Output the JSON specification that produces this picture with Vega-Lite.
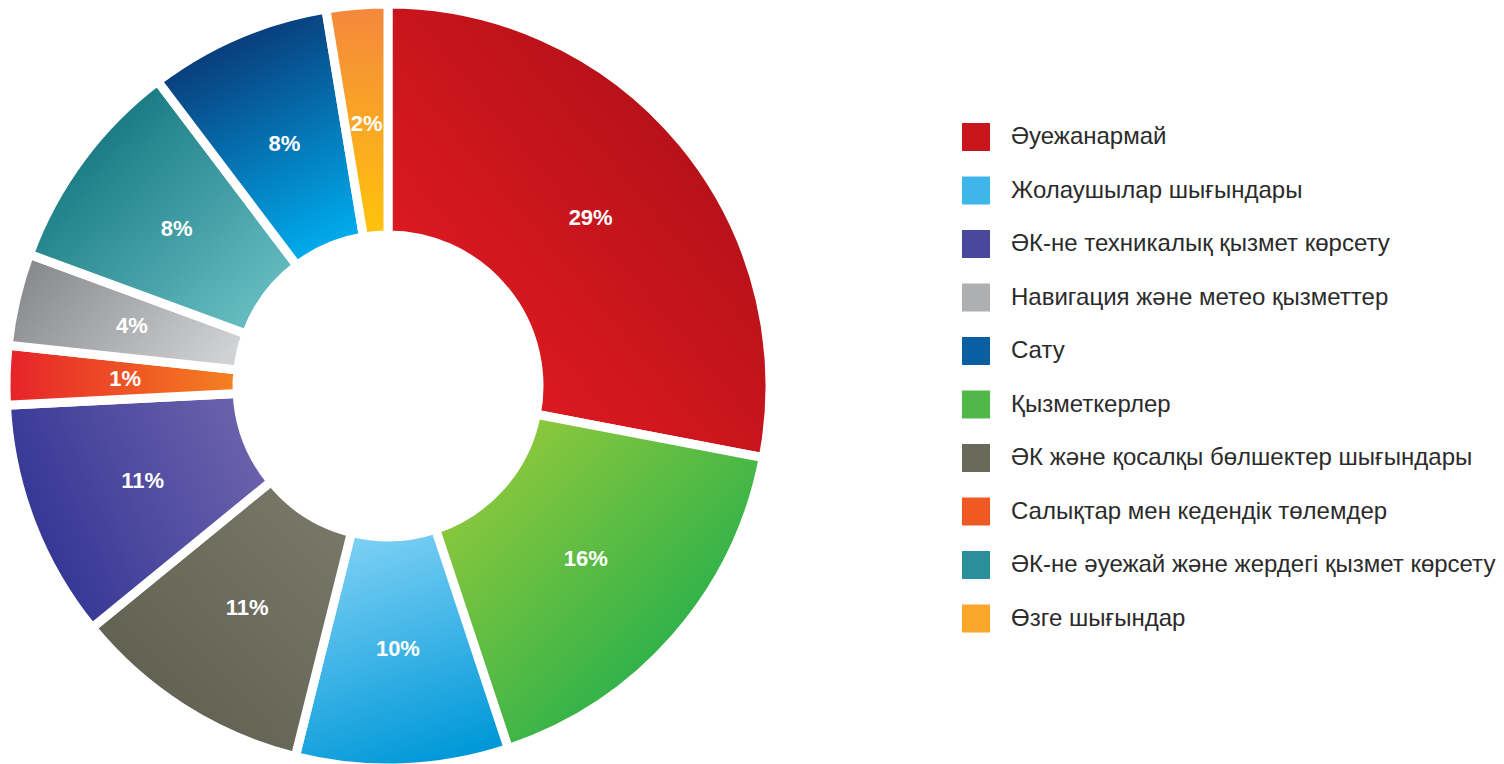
{
  "$schema": "https://vega.github.io/schema/vega-lite/v6.json",
  "width": 776,
  "height": 756,
  "autosize": {"type": "none"},
  "padding": {"left": 0, "top": 8, "right": 728, "bottom": 0},
  "background": "white",
  "config": {"view": {"stroke": null}},
  "data": {
    "values": [
      {"idx": 0, "name": "Әуежанармай", "share": 28.0, "pct": "29%"},
      {"idx": 1, "name": "Қызметкерлер", "share": 16.9, "pct": "16%"},
      {"idx": 2, "name": "Жолаушылар шығындары", "share": 9.0, "pct": "10%"},
      {"idx": 3, "name": "ӘК және қосалқы бөлшектер шығындары", "share": 10.2, "pct": "11%"},
      {"idx": 4, "name": "ӘК-не техникалық қызмет көрсету", "share": 10.1, "pct": "11%"},
      {"idx": 5, "name": "Салықтар мен кедендік төлемдер", "share": 2.5, "pct": "1%"},
      {"idx": 6, "name": "Навигация және метео қызметтер", "share": 3.9, "pct": "4%"},
      {"idx": 7, "name": "ӘК-не әуежай және жердегі қызмет көрсету", "share": 9.1, "pct": "8%"},
      {"idx": 8, "name": "Сату", "share": 7.7, "pct": "8%"},
      {"idx": 9, "name": "Өзге шығындар", "share": 2.6, "pct": "2%"}
    ]
  },
  "encoding": {
    "theta": {"field": "share", "type": "quantitative", "stack": true},
    "order": {"field": "idx", "type": "quantitative"}
  },
  "layer": [
    {
      "mark": {"type": "arc", "outerRadius": 382, "innerRadius": 151, "stroke": "white", "strokeWidth": 9},
      "encoding": {
        "color": {
          "field": "name",
          "type": "nominal",
          "scale": {
            "domain": ["Әуежанармай", "Жолаушылар шығындары", "ӘК-не техникалық қызмет көрсету", "Навигация және метео қызметтер", "Сату", "Қызметкерлер", "ӘК және қосалқы бөлшектер шығындары", "Салықтар мен кедендік төлемдер", "ӘК-не әуежай және жердегі қызмет көрсету", "Өзге шығындар"],
            "range": ["#c9151c", "#3fb6ea", "#4a479e", "#aeafb1", "#0a5fa3", "#4fb848", "#6a6a5b", "#ee5a22", "#2a8f98", "#f9a62a"]
          },
          "legend": {
            "orient": "none",
            "legendX": 962,
            "legendY": 115,
            "title": null,
            "padding": 0,
            "symbolType": "square",
            "symbolSize": 784,
            "symbolStrokeWidth": 0,
            "symbolOpacity": 1,
            "labelFontSize": 24,
            "labelFont": "Liberation Sans",
            "labelColor": "#2b2b2b",
            "labelLimit": 600,
            "labelOffset": 21,
            "rowPadding": 25.5,
            "encode": {
              "symbols": {
                "update": {
                  "fill": [
                    {"test": "datum.value === 'Әуежанармай'", "value": {"gradient": "linear", "x1": 0, "y1": 1, "x2": 1, "y2": 0, "stops": [{"offset": 0, "color": "#ee1d25"}, {"offset": 1, "color": "#a30d14"}]}},
                    {"test": "datum.value === 'Қызметкерлер'", "value": {"gradient": "linear", "x1": 0, "y1": 0, "x2": 1, "y2": 1, "stops": [{"offset": 0, "color": "#a6ce39"}, {"offset": 1, "color": "#00a651"}]}},
                    {"test": "datum.value === 'Жолаушылар шығындары'", "value": {"gradient": "linear", "x1": 0.3, "y1": 0, "x2": 0.6, "y2": 1, "stops": [{"offset": 0, "color": "#80d1f5"}, {"offset": 1, "color": "#0098d8"}]}},
                    {"test": "datum.value === 'ӘК және қосалқы бөлшектер шығындары'", "value": {"gradient": "linear", "x1": 1, "y1": 0, "x2": 0, "y2": 1, "stops": [{"offset": 0, "color": "#7b7b6b"}, {"offset": 1, "color": "#5b5b4d"}]}},
                    {"test": "datum.value === 'ӘК-не техникалық қызмет көрсету'", "value": {"gradient": "linear", "x1": 0, "y1": 0.7, "x2": 1, "y2": 0.3, "stops": [{"offset": 0, "color": "#2d3192"}, {"offset": 1, "color": "#6d63ad"}]}},
                    {"test": "datum.value === 'Салықтар мен кедендік төлемдер'", "value": {"gradient": "linear", "x1": 0, "y1": 0.5, "x2": 1, "y2": 0.5, "stops": [{"offset": 0, "color": "#e6222a"}, {"offset": 1, "color": "#f58220"}]}},
                    {"test": "datum.value === 'Навигация және метео қызметтер'", "value": {"gradient": "linear", "x1": 0, "y1": 0.3, "x2": 1, "y2": 0.7, "stops": [{"offset": 0, "color": "#88898c"}, {"offset": 1, "color": "#d1d2d4"}]}},
                    {"test": "datum.value === 'ӘК-не әуежай және жердегі қызмет көрсету'", "value": {"gradient": "linear", "x1": 0, "y1": 0, "x2": 1, "y2": 1, "stops": [{"offset": 0, "color": "#00646f"}, {"offset": 1, "color": "#72c8cb"}]}},
                    {"test": "datum.value === 'Сату'", "value": {"gradient": "linear", "x1": 0.3, "y1": 0, "x2": 0.7, "y2": 1, "stops": [{"offset": 0, "color": "#0b2d6b"}, {"offset": 1, "color": "#00aeef"}]}},
                    {"value": {"gradient": "linear", "x1": 0.5, "y1": 0, "x2": 0.5, "y2": 1, "stops": [{"offset": 0, "color": "#f4873e"}, {"offset": 1, "color": "#ffc40c"}]}}
                  ]
                }
              }
            }
          }
        }
      }
    },
    {
      "mark": {"type": "arc", "outerRadius": 382, "innerRadius": 151, "stroke": "white", "strokeWidth": 9},
      "encoding": {
        "detail": {"field": "name"},
        "fill": {
          "condition": [
            {"test": "datum.idx === 0", "value": {"gradient": "linear", "x1": 0, "y1": 1, "x2": 1, "y2": 0, "stops": [{"offset": 0, "color": "#ee1d25"}, {"offset": 1, "color": "#a30d14"}]}},
            {"test": "datum.idx === 1", "value": {"gradient": "linear", "x1": 0, "y1": 0, "x2": 1, "y2": 1, "stops": [{"offset": 0, "color": "#a6ce39"}, {"offset": 1, "color": "#00a651"}]}},
            {"test": "datum.idx === 2", "value": {"gradient": "linear", "x1": 0.3, "y1": 0, "x2": 0.6, "y2": 1, "stops": [{"offset": 0, "color": "#80d1f5"}, {"offset": 1, "color": "#0098d8"}]}},
            {"test": "datum.idx === 3", "value": {"gradient": "linear", "x1": 1, "y1": 0, "x2": 0, "y2": 1, "stops": [{"offset": 0, "color": "#7b7b6b"}, {"offset": 1, "color": "#5b5b4d"}]}},
            {"test": "datum.idx === 4", "value": {"gradient": "linear", "x1": 0, "y1": 0.7, "x2": 1, "y2": 0.3, "stops": [{"offset": 0, "color": "#2d3192"}, {"offset": 1, "color": "#6d63ad"}]}},
            {"test": "datum.idx === 5", "value": {"gradient": "linear", "x1": 0, "y1": 0.5, "x2": 1, "y2": 0.5, "stops": [{"offset": 0, "color": "#e6222a"}, {"offset": 1, "color": "#f58220"}]}},
            {"test": "datum.idx === 6", "value": {"gradient": "linear", "x1": 0, "y1": 0.3, "x2": 1, "y2": 0.7, "stops": [{"offset": 0, "color": "#88898c"}, {"offset": 1, "color": "#d1d2d4"}]}},
            {"test": "datum.idx === 7", "value": {"gradient": "linear", "x1": 0, "y1": 0, "x2": 1, "y2": 1, "stops": [{"offset": 0, "color": "#00646f"}, {"offset": 1, "color": "#72c8cb"}]}},
            {"test": "datum.idx === 8", "value": {"gradient": "linear", "x1": 0.3, "y1": 0, "x2": 0.7, "y2": 1, "stops": [{"offset": 0, "color": "#0b2d6b"}, {"offset": 1, "color": "#00aeef"}]}}
          ],
          "value": {"gradient": "linear", "x1": 0.5, "y1": 0, "x2": 0.5, "y2": 1, "stops": [{"offset": 0, "color": "#f4873e"}, {"offset": 1, "color": "#ffc40c"}]}
        }
      }
    },
    {
      "mark": {"type": "text", "radius": 263, "fill": "white", "fontSize": 22, "fontWeight": "bold", "font": "Liberation Sans", "align": "center", "baseline": "middle"},
      "encoding": {
        "detail": {"field": "name"},
        "text": {"field": "pct"}
      }
    }
  ]
}
